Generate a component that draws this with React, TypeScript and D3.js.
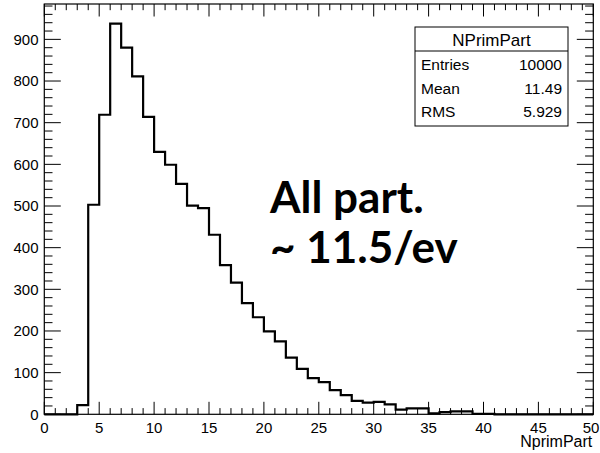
import React from "react";
import * as d3 from "d3";

// Histogram bin contents, bins [k, k+1) for k = 0..49
const binCounts = [
  0, 0, 0, 22, 503, 719, 938, 880, 811, 714,
  630, 599, 553, 501, 495, 431, 358, 316, 267, 233,
  199, 175, 136, 109, 87, 77, 58, 46, 32, 28,
  30, 24, 11, 14, 14, 2, 5, 7, 7, 1,
  1, 0, 0, 0, 0, 0, 0, 0, 0, 0,
];
const xMajorTicks = [0, 5, 10, 15, 20, 25, 30, 35, 40, 45, 50];
const yMajorTicks = [0, 100, 200, 300, 400, 500, 600, 700, 800, 900];
const statTitle = "NPrimPart";
const statLabels = ["Entries", "Mean", "RMS"];
const statValues = ["10000", "11.49", "5.929"];
const xTitle = "NprimPart";
const noteLines = ["All part.", "~ 11.5/ev"];

const W = 600;
const H = 453;
const L = 44.3;
const R = 593.3;
const T = 4;
const B = 414.3;

export default function App() {
  const xMin = 0;
  const xMax = 50;
  const yMax = 1.05 * (d3.max(binCounts) as number);
  const x = d3.scaleLinear().domain([xMin, xMax]).range([L, R]);
  const y = d3.scaleLinear().domain([0, yMax]).range([B, T]);

  // step path
  let d = `M${x(0)},${y(0)}`;
  binCounts.forEach((c, i) => {
    d += `L${x(i)},${y(c)}L${x(i + 1)},${y(c)}`;
  });
  d += `L${x(binCounts.length)},${y(0)}`;

  const xMinor = d3.range(xMin, xMax + 0.001, 1);
  const yMinor = d3.range(0, yMax, 20);

  const font = "'Liberation Sans', Arial, Helvetica, sans-serif";
  const xMajLen = 12.5;
  const xMinLen = 6.2;
  const yMajLen = 16.5;
  const yMinLen = 8.2;

  // stat box
  const sbL = 415;
  const sbR = 568;
  const sbT = 27;
  const sbB = 126;
  const sbSep = 51;
  const rowBase = [70, 94, 117];

  return (
    <svg width={W} height={H} style={{ position: "absolute", left: 0, top: 0, background: "#fff" }}>
      <rect x={0} y={0} width={W} height={H} fill="#fff" />
      {/* histogram */}
      <path d={d} fill="none" stroke="#000" strokeWidth={2.2} strokeLinejoin="miter" />
      {/* frame */}
      <rect x={L} y={T} width={R - L} height={B - T} fill="none" stroke="#000" strokeWidth={1.2} />
      {/* x ticks bottom and top */}
      {xMinor.map((v) => {
        const major = Math.abs(v % 5) < 1e-6;
        const len = major ? xMajLen : xMinLen;
        return (
          <g key={"xt" + v}>
            <line x1={x(v)} x2={x(v)} y1={B} y2={B - len} stroke="#000" strokeWidth={1} />
            <line x1={x(v)} x2={x(v)} y1={T} y2={T + len} stroke="#000" strokeWidth={1} />
          </g>
        );
      })}
      {/* y ticks left and right */}
      {yMinor.map((v) => {
        const major = Math.abs(v % 100) < 1e-6;
        const len = major ? yMajLen : yMinLen;
        return (
          <g key={"yt" + v}>
            <line x1={L} x2={L + len} y1={y(v)} y2={y(v)} stroke="#000" strokeWidth={1} />
            <line x1={R} x2={R - len} y1={y(v)} y2={y(v)} stroke="#000" strokeWidth={1} />
          </g>
        );
      })}
      {/* x labels */}
      {xMajorTicks.map((v) => (
        <text key={"xl" + v} x={Math.min(x(v), 591)} y={433} textAnchor="middle" fontFamily={font} fontSize={15} fill="#000">
          {v}
        </text>
      ))}
      {/* y labels */}
      {yMajorTicks.map((v) => (
        <text key={"yl" + v} x={38.5} y={y(v) + 5.4} textAnchor="end" fontFamily={font} fontSize={15} fill="#000">
          {v}
        </text>
      ))}
      {/* x title */}
      <text x={R - 1} y={447} textAnchor="end" fontFamily={font} fontSize={16} fill="#000">
        {xTitle}
      </text>
      {/* stat box */}
      <rect x={sbL} y={sbT} width={sbR - sbL} height={sbB - sbT} fill="#fff" stroke="#000" strokeWidth={1} />
      <line x1={sbL} x2={sbR} y1={sbSep} y2={sbSep} stroke="#000" strokeWidth={1} />
      <text x={(sbL + sbR) / 2} y={46} textAnchor="middle" fontFamily={font} fontSize={17} fill="#000">
        {statTitle}
      </text>
      {statLabels.map((s, i) => (
        <g key={"st" + i}>
          <text x={421} y={rowBase[i]} fontFamily={font} fontSize={15.5} fill="#000">
            {s}
          </text>
          <text x={562} y={rowBase[i]} textAnchor="end" fontFamily={font} fontSize={15.5} fill="#000">
            {statValues[i]}
          </text>
        </g>
      ))}
      {/* annotation */}
      {noteLines.map((s, i) => (
        <text key={"n" + i} x={270} y={213 + i * 50} fontFamily="Lato, 'Open Sans', sans-serif" fontWeight={700} fontSize={44} fill="#000">
          {s}
        </text>
      ))}
    </svg>
  );
}
